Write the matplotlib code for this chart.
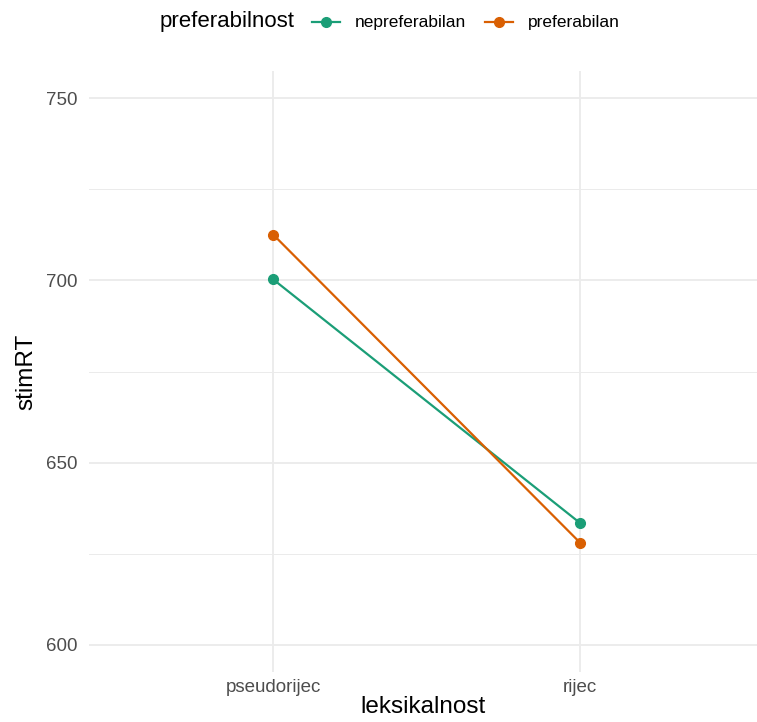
import matplotlib.pyplot as plt
from matplotlib.lines import Line2D

plt.rcParams['font.family'] = ['Liberation Sans', 'DejaVu Sans']

# data
categories = ["pseudorijec", "rijec"]
groups = ["nepreferabilan", "preferabilan"]
nepreferabilan = [700.3, 633.4]
preferabilan = [712.6, 628.0]
colors = ["#1B9E77", "#D95F02"]

W, H = 757, 722
fig = plt.figure(figsize=(W / 100, H / 100), dpi=100)
ax = fig.add_axes([89 / W, 1 - 672 / H, (W - 89) / W, (672 - 71) / H])

x = list(range(1, len(categories) + 1))
for vals, col in zip([nepreferabilan, preferabilan], colors):
    ax.plot(x, vals, color=col, lw=1.6, marker="o", markersize=7, zorder=3)

ax.set_xlim(0.4, 1 + (W - 273) / 307)
ax.set_ylim(592.5, 757.5)
ax.set_xticks(x)
ax.set_xticklabels(categories)
ax.set_yticks([600, 650, 700, 750])
ax.set_yticks([625, 675, 725], minor=True)

ax.grid(which="major", color="#EBEBEB", lw=1.3)
ax.grid(which="minor", axis="y", color="#EBEBEB", lw=0.7)
ax.set_axisbelow(True)
for s in ax.spines.values():
    s.set_visible(False)
ax.tick_params(which="both", length=0, labelsize=13.5, labelcolor="#4D4D4D")
ax.tick_params(axis="y", pad=8.5)
ax.tick_params(axis="x", pad=5)

ax.set_xlabel("leksikalnost", fontsize=17.5, labelpad=0)
ax.set_ylabel("stimRT", fontsize=17.5, labelpad=6)

# legend on top, title to the left of the keys
ly = 1 - 22 / H
fig.text(160 / W, ly, "preferabilnost", fontsize=16, va="center", ha="left")
key_x = [(312, 340, 355), (485, 513, 528)]
for (x0, x1, tx), col, lab in zip(key_x, colors, groups):
    fig.add_artist(Line2D([x0 / W, x1 / W], [ly, ly], transform=fig.transFigure,
                          color=col, lw=1.6))
    fig.add_artist(Line2D([(x0 + x1) / 2 / W], [ly], transform=fig.transFigure,
                          color=col, marker="o", markersize=7))
    fig.text(tx / W, ly, lab, fontsize=12.5, va="center", ha="left")

fig.savefig("out.png", dpi=100)
